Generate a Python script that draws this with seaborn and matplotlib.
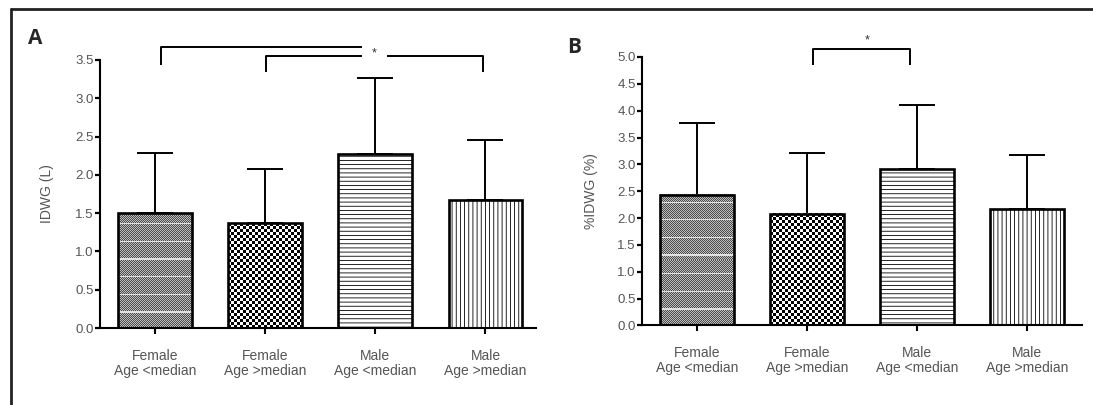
import numpy as np
import pandas as pd
import matplotlib
matplotlib.use("Agg")
import matplotlib.pyplot as plt
from matplotlib.lines import Line2D
import seaborn as sns

# groups and values
groups = ["Female\nAge <median", "Female\nAge >median", "Male\nAge <median", "Male\nAge >median"]
idwg_mean = [1.50, 1.37, 2.27, 1.67]
idwg_sd = [0.79, 0.70, 0.99, 0.78]
pidwg_mean = [2.43, 2.08, 2.91, 2.17]
pidwg_sd = [1.35, 1.13, 1.20, 1.01]
fills = ["fine", "check", "----", "||||"]

sns.set_style("ticks")
plt.rcParams["font.family"] = ["Liberation Sans", "DejaVu Sans"]
plt.rcParams["hatch.linewidth"] = 0.6
plt.rcParams["hatch.color"] = "black"

fig = plt.figure(figsize=(10.93, 4.05), dpi=100)
axA = fig.add_axes([0.0915, 0.190, 0.399, 0.662])
axB = fig.add_axes([0.5874, 0.1963, 0.4026, 0.663])


def texture(ax, patch, kind):
    x0, y0 = patch.get_x(), patch.get_y()
    w, h = patch.get_width(), patch.get_height()
    (px0, py0), (px1, py1) = ax.transData.transform([(x0, y0), (x0 + w, y0 + h)])
    nw, nh = int(round(px1 - px0)), int(round(py1 - py0))
    yy, xx = np.mgrid[0:nh, 0:nw]
    r = nh - 1 - yy
    if kind == "fine":
        img = np.where((xx + yy) % 2 == 0, 0.30, 0.74).astype(float)
        img[((r - 15) % 17.6) < 1.3] = 0.88
    else:
        img = np.where(((xx // 3) + (r // 3)) % 2 == 0, 0.0, 1.0)
    ax.imshow(img, cmap="gray", vmin=0, vmax=1, extent=(x0, x0 + w, y0, y0 + h),
              aspect="auto", interpolation="nearest", zorder=0.8)


def panel(ax, means, sds, ymax, xmax, ylabel, labx):
    df = pd.DataFrame({"group": groups, "value": means})
    sns.barplot(data=df, x="group", y="value", color="white", edgecolor="black",
                linewidth=1.9, width=0.67, errorbar=None, ax=ax, zorder=1)
    ax.errorbar(range(len(groups)), means, yerr=[np.zeros(len(sds)), sds], fmt="none",
                ecolor="black", elinewidth=1.4, capsize=13, capthick=1.4, zorder=0.5)
    ax.set_xlim(-0.5, xmax)
    ax.set_ylim(0, ymax)
    for p, f in zip(ax.patches, fills):
        if f in ("fine", "check"):
            texture(ax, p, f)
            p.set_facecolor("none")
        else:
            p.set_facecolor("white")
            p.set_hatch(f)
        p.set_zorder(1)
    ax.set_xlim(-0.5, xmax)
    ax.set_ylim(0, ymax)
    ticks = np.arange(0, ymax + 0.01, 0.5)
    ax.set_yticks(ticks)
    ax.set_yticklabels([f"{v:.1f}" for v in ticks])
    sns.despine(ax=ax)
    for s in ("left", "bottom"):
        ax.spines[s].set_linewidth(1.5)
        ax.spines[s].set_color("black")
    ax.tick_params(axis="y", length=3.5, width=1.6, pad=1, labelsize=9.5, labelcolor="#555555", color="black")
    ax.tick_params(axis="x", length=4, width=1.5, pad=11, labelsize=10, labelcolor="#555555", color="black")
    for t in ax.get_xticklabels():
        t.set_linespacing(1.1)
    ax.set_xlabel("")
    ax.set_ylabel(ylabel, fontsize=10, color="#555555")
    ax.yaxis.set_label_coords(labx, 0.5)


panel(axA, idwg_mean, idwg_sd, 3.5, 3.46, "IDWG (L)", -0.105)
panel(axB, pidwg_mean, pidwg_sd, 5.0, 3.5, "%IDWG (%)", -0.1)

# significance brackets
lk = dict(color="black", lw=1.4, clip_on=False, solid_capstyle="butt")
axA.plot([0.05, 0.05, 1.88], [3.43, 3.67, 3.67], **lk)
axA.plot([1.01, 1.01, 1.88], [3.34, 3.55, 3.55], **lk)
axA.plot([2.11, 2.98, 2.98], [3.55, 3.55, 3.34], **lk)
axA.text(1.99, 3.58, "*", ha="center", va="center", fontsize=9, color="#333333")
axB.plot([1.05, 1.05, 1.94, 1.94], [4.85, 5.15, 5.15, 4.85], **lk)
axB.text(1.55, 5.30, "*", ha="center", va="center", fontsize=9, color="#333333", clip_on=False)

fig.text(0.0256, 0.931, "A", fontsize=15, fontweight="bold", family=["Open Sans", "DejaVu Sans"], va="top")
fig.text(0.519, 0.909, "B", fontsize=15, fontweight="bold", family=["Open Sans", "DejaVu Sans"], va="top")

# outer frame (left and top edges visible)
fig.add_artist(Line2D([0.0101, 0.0101], [0.0, 0.978], transform=fig.transFigure, lw=2, color="#222222"))
fig.add_artist(Line2D([0.0101, 1.0], [0.978, 0.978], transform=fig.transFigure, lw=2, color="#222222"))

fig.savefig("out.png", dpi=100)
